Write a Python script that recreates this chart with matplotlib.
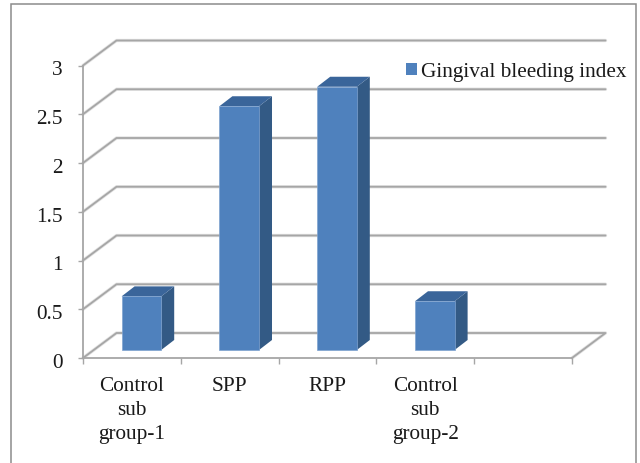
import matplotlib
matplotlib.use('Agg')
import matplotlib.pyplot as plt
from matplotlib.patches import Polygon, Rectangle
from matplotlib.transforms import ScaledTranslation
import numpy as np

plt.rcParams['font.family'] = ['Liberation Serif', 'DejaVu Serif']

categories = ['Control\nsub\ngroup-1', 'SPP', 'RPP', 'Control\nsub\ngroup-2']
gingival_bleeding = [0.55, 2.5, 2.7, 0.5]
y_ticks = [0, 0.5, 1, 1.5, 2, 2.5, 3]
y_labels = ['0', '0.5', '1', '1.5', '2', '2.5', '3']

W, H = 640, 463
grid_col = '#a6a6a6'
front = '#4f81bd'
side = '#335a85'
top = '#3a659a'
fs = 15.3

fig = plt.figure(figsize=(W / 100, H / 100), dpi=100)
# outer frame runs off the bottom of the picture
fig.add_artist(Rectangle((10.5 / W, -0.02), 625.5 / W, 1.02 - 4.5 / H, fill=False,
                         edgecolor='#8c8c8c', linewidth=1.1, transform=fig.transFigure))

ax = fig.add_axes([83 / W, (H - 358) / H, 489 / W, 292.5 / H])
ax.set_xlim(0, 5)
ax.set_ylim(0, 3)

# fake 3d: depth of the floor and of the bars, in data units
dx, dy = 33.5 / 97.8, 25 / 97.5
bar_w = 0.405
bar_dx, bar_dy = 13 / 97.8, 10 / 97.5
off_x, off_y = 9.5 / 97.8, 8 / 97.5

# back wall gridlines
for v in y_ticks:
    xs = [0, dx, 5 + dx] if v > 0 else [5, 5 + dx, dx, 0]
    ys = [v, v + dy, v + dy] if v > 0 else [0, dy, dy, 0]
    ax.plot(xs, ys, color='#e2e2e2', lw=2.4, clip_on=False, zorder=1, solid_capstyle='round')
    ax.plot(xs, ys, color=grid_col, lw=1.3, clip_on=False, zorder=1.1, solid_capstyle='round')

centers = np.arange(len(categories)) + 0.5 + off_x
ax.bar(centers, gingival_bleeding, width=bar_w, bottom=off_y, color=front,
       edgecolor='#7fa3cf', linewidth=0.5, zorder=3, clip_on=False,
       label='Gingival bleeding index')

for c, v in zip(centers, gingival_bleeding):
    l, r = c - bar_w / 2, c + bar_w / 2
    t = v + off_y
    ax.add_patch(Polygon([(r, off_y), (r + bar_dx, off_y + bar_dy), (r + bar_dx, t + bar_dy), (r, t)],
                         closed=True, facecolor=side, edgecolor='none', zorder=2.9, clip_on=False))
    ax.add_patch(Polygon([(l, t), (l + bar_dx, t + bar_dy), (r + bar_dx, t + bar_dy), (r, t)],
                         closed=True, facecolor=top, edgecolor='none', zorder=2.9, clip_on=False))

for s in ['top', 'right']:
    ax.spines[s].set_visible(False)
for s in ['left', 'bottom']:
    ax.spines[s].set_color(grid_col)
    ax.spines[s].set_linewidth(1.3)
    ax.spines[s].set_zorder(2)

ax.set_yticks(y_ticks)
ax.set_yticklabels(y_labels, fontsize=fs, color='#1a1a1a')
ax.tick_params(axis='y', length=3.6, width=1, color=grid_col, pad=11)
# y labels sit a little below their ticks
for lab in ax.get_yticklabels():
    lab.set_transform(lab.get_transform() + ScaledTranslation(0, -2 / 72, fig.dpi_scale_trans))

ax.set_xticks(np.arange(6), minor=True)
ax.set_xticks(np.arange(len(categories)) + 0.5)
ax.set_xticklabels(categories, fontsize=fs, color='#1a1a1a', linespacing=1.36)
ax.tick_params(axis='x', which='major', length=0, pad=13.5)
ax.tick_params(axis='x', which='minor', length=4.5, width=1, color=grid_col)

ax.legend(loc='center left', bbox_to_anchor=(406 / W, (H - 72) / H), bbox_transform=fig.transFigure,
          frameon=False, fontsize=fs, handlelength=0.52, handleheight=0.52,
          handletextpad=0.19, borderpad=0, borderaxespad=0, labelcolor='#1a1a1a')
for h in ax.get_legend().legend_handles:
    h.set_edgecolor('none')

fig.savefig('out.png', dpi=100)
